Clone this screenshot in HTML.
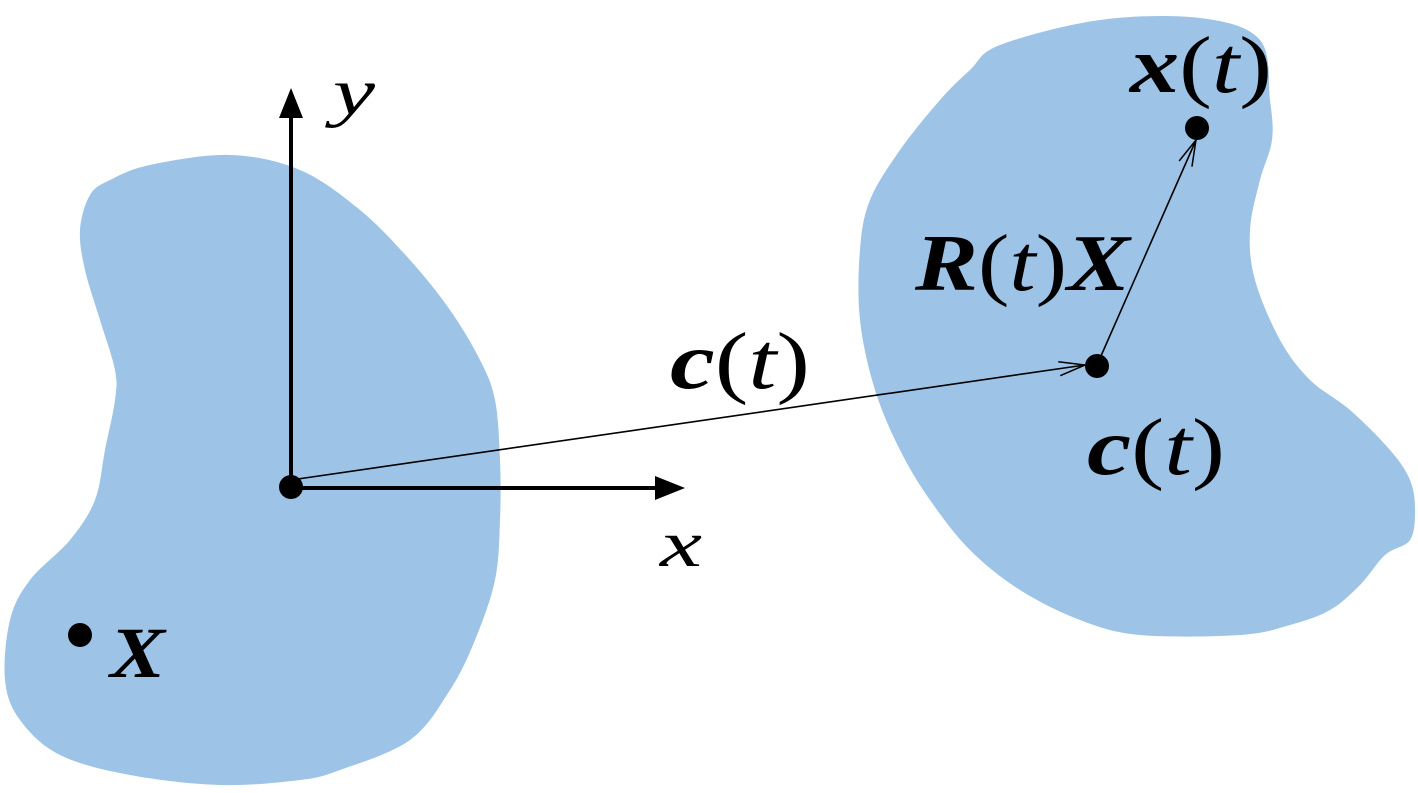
<!DOCTYPE html>
<html><head><meta charset="utf-8"><style>
html,body{margin:0;padding:0;background:#fff;width:1418px;height:793px;overflow:hidden}
svg{display:block}
text{font-family:"Liberation Serif","DejaVu Serif",serif;fill:#000}
</style></head><body>
<svg width="1418" height="793" viewBox="0 0 1418 793">
<defs>
<marker id="open" markerWidth="30" markerHeight="20" refX="28" refY="10" orient="auto" markerUnits="userSpaceOnUse">
<path d="M2,3 L28,10 L2,17" fill="none" stroke="#000" stroke-width="1.5"/>
</marker>
</defs>
<path id="b1" fill="#9DC3E6" d=""/>
<path id="b2" fill="#9DC3E6" d=""/>
<g>
<line x1="291" y1="488" x2="291" y2="112" stroke="#000" stroke-width="4"/>
<polygon points="291,88 279,118 303,118" fill="#000"/>
</g>
<g>
<line x1="291" y1="488" x2="660" y2="488" stroke="#000" stroke-width="4"/>
<polygon points="685,488 655,476 655,500" fill="#000"/>
</g>
<line x1="291" y1="480" x2="1085" y2="365" stroke="#000" stroke-width="1.6" marker-end="url(#open)"/>
<line x1="1097" y1="365" x2="1196" y2="140" stroke="#000" stroke-width="1.6" marker-end="url(#open)"/>
<circle cx="291" cy="487" r="12" fill="#000"/>
<circle cx="1097" cy="366" r="12" fill="#000"/>
<circle cx="1197" cy="128" r="12" fill="#000"/>
<circle cx="80" cy="635" r="12" fill="#000"/>
<text x="333" y="114" font-size="66" font-style="italic" textLength="42" lengthAdjust="spacingAndGlyphs">y</text>
<text x="660" y="566" font-size="66" font-style="italic" textLength="42" lengthAdjust="spacingAndGlyphs">x</text>
<text x="670" y="388" font-size="80" textLength="140" lengthAdjust="spacingAndGlyphs"><tspan font-weight="bold" font-style="italic">c</tspan><tspan>(</tspan><tspan font-style="italic">t</tspan><tspan>)</tspan></text>
<text x="915" y="290" font-size="80" textLength="215" lengthAdjust="spacingAndGlyphs"><tspan font-weight="bold" font-style="italic">R</tspan><tspan>(</tspan><tspan font-style="italic">t</tspan><tspan>)</tspan><tspan font-weight="bold" font-style="italic">X</tspan></text>
<text x="1087" y="474" font-size="80" textLength="138" lengthAdjust="spacingAndGlyphs"><tspan font-weight="bold" font-style="italic">c</tspan><tspan>(</tspan><tspan font-style="italic">t</tspan><tspan>)</tspan></text>
<text x="1130" y="92" font-size="80" textLength="142" lengthAdjust="spacingAndGlyphs"><tspan font-weight="bold" font-style="italic">x</tspan><tspan>(</tspan><tspan font-style="italic">t</tspan><tspan>)</tspan></text>
<text x="110" y="677" font-size="72" font-weight="bold" font-style="italic" textLength="55" lengthAdjust="spacingAndGlyphs">X</text>
</svg>
<script>
const blob1 = [[150,165],[230,155],[300,170],[360,210],[410,260],[450,310],[480,360],[495,400],[500,460],[500,520],[495,580],[475,640],[450,690],[410,740],[340,770],[300,780],[220,785],[130,775],[60,755],[20,720],[5,680],[10,620],[30,580],[70,540],[95,500],[105,450],[115,400],[115,370],[100,320],[85,270],[80,230],[90,195],[110,180]];
const blob2 = [[1000,45],[1100,20],[1200,18],[1260,40],[1270,100],[1272,140],[1260,180],[1250,230],[1255,280],[1280,340],[1310,380],[1350,410],[1390,450],[1410,480],[1415,510],[1410,540],[1385,555],[1360,585],[1330,610],[1290,625],[1240,635],[1140,635],[1080,620],[1020,590],[970,550],[930,500],[900,450],[875,390],[860,320],[860,250],[870,200],[900,150],[940,100],[970,70]];
function smooth(p){
  const n=p.length;let d=`M${p[0][0]},${p[0][1]}`;
  for(let i=0;i<n;i++){
    const p0=p[(i-1+n)%n],p1=p[i],p2=p[(i+1)%n],p3=p[(i+2)%n];
    const c1=[p1[0]+(p2[0]-p0[0])/6,p1[1]+(p2[1]-p0[1])/6];
    const c2=[p2[0]-(p3[0]-p1[0])/6,p2[1]-(p3[1]-p1[1])/6];
    d+=` C${c1[0]},${c1[1]} ${c2[0]},${c2[1]} ${p2[0]},${p2[1]}`;
  }
  return d+'Z';
}
document.getElementById('b1').setAttribute('d',smooth(blob1));
document.getElementById('b2').setAttribute('d',smooth(blob2));
</script>
</body></html>
